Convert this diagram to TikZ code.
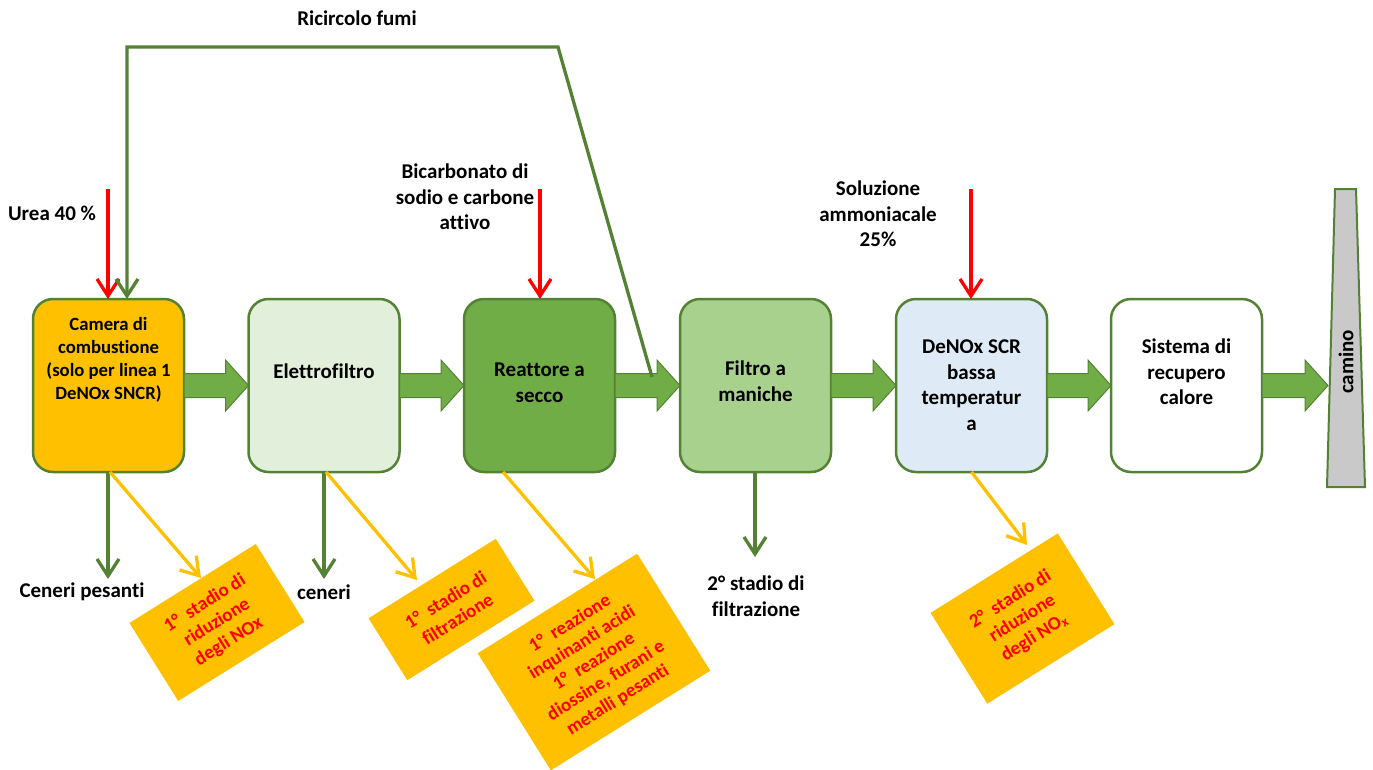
\documentclass[tikz,border=0pt]{standalone}
\usepackage{fontspec}
\setmainfont{Carlito}[Ligatures=NoCommon]
\usetikzlibrary{arrows.meta,calc}
\definecolor{dgreen}{HTML}{548235}
\definecolor{mgreen}{HTML}{70AD47}
\definecolor{lgreen}{HTML}{A9D18E}
\definecolor{vlgreen}{HTML}{E2EFDA}
\definecolor{lblue}{HTML}{DEEBF7}
\definecolor{gold}{HTML}{FFC000}
\definecolor{pure red}{HTML}{FF0000}
\definecolor{chimgray}{HTML}{C9C9C9}
\newcommand{\flowarrow}[2]{%
  \draw[flow] ($(#1)+(0,-12)$) -- ($(#2)+(-23,-12)$) -- ($(#2)+(-23,-25.5)$) -- (#2)
    -- ($(#2)+(-23,25.5)$) -- ($(#2)+(-23,12)$) -- ($(#1)+(0,12)$) -- cycle;}
\begin{document}
\begin{tikzpicture}[x=1pt,y=-1pt,
  box/.style={draw=dgreen, line width=2.5pt, rounded corners=20pt,
    minimum width=151pt, minimum height=173pt, inner sep=0pt, outer sep=0pt},
  lbl/.style={font=\fontsize{21}{25.6}\selectfont\bfseries, align=center, inner sep=0pt},
  smlbl/.style={font=\fontsize{18.7}{23}\selectfont\bfseries, align=center, inner sep=0pt},
  note/.style={fill=gold, rotate=32, inner sep=0pt, outer sep=0pt,
    font=\fontsize{19}{22.5}\selectfont\bfseries, text=pure red, align=center},
  flow/.style={fill=mgreen, draw=dgreen, line width=1pt, line join=miter},
  tip/.style={-{Straight Barb[length=17pt,width=22pt]}},
  greenar/.style={draw=dgreen, line width=3.3pt, tip},
  redar/.style={draw=pure red, line width=3.3pt, tip},
  goldar/.style={draw=gold, line width=3.3pt, tip}
]
\useasboundingbox (0,0) rectangle (1373,769);

% main process boxes
\node[box, fill=gold]    (cam)  at (108.5,385.5) {};
\node[box, fill=vlgreen] (elet) at (324,385.5) {};
\node[box, fill=mgreen]  (reat) at (539.5,385.5) {};
\node[box, fill=lgreen]  (filt) at (755.5,385.5) {};
\node[box, fill=lblue]   (scr)  at (971.5,385.5) {};
\node[box, fill=white]   (sys)  at (1186.5,385.5) {};

\node[smlbl] (cam-t)  at (108.5,360) {Camera di\\combustione\\(solo per linea 1\\DeNOx SNCR)};
\node[lbl]   (elet-t) at (324,371) {Elettrofiltro};
\node[lbl]   (reat-t) at (539.5,383) {Reattore a\\secco};
\node[lbl]   (filt-t) at (755.5,381) {Filtro a\\maniche};
\node[lbl]   (scr-t)  at (971.5,385) {DeNOx SCR\\bassa\\temperatur\\a};
\node[lbl]   (sys-t)  at (1186.5,372) {Sistema di\\recupero\\calore};

% chimney
\draw[fill=chimgray, draw=dgreen, line width=2pt] (1335,189) -- (1356,189) -- (1365,487) -- (1327,487) -- cycle;
\node[lbl, rotate=90] (chim) at (1346,362) {camino};
\coordinate (chim-in) at (1328,385.5);

% block flow arrows
\flowarrow{cam.east}{elet.west}
\flowarrow{elet.east}{reat.west}
\flowarrow{reat.east}{filt.west}
\flowarrow{filt.east}{scr.west}
\flowarrow{scr.east}{sys.west}
\flowarrow{sys.east}{chim-in}

% top labels
\node[lbl] (urea) at (52,213) {Urea 40 \%};
\node[lbl] (ric-t) at (357,18) {Ricircolo fumi};
\node[lbl] (bic) at (465,197) {Bicarbonato di\\sodio e carbone\\attivo};
\node[lbl] (sol) at (878,214) {Soluzione\\ammoniacale\\25\%};

% input arrows
\coordinate (urea-s) at (108,189);
\coordinate (bic-s) at (540,189);
\coordinate (sol-s) at (971,189);
\draw[redar] (urea-s) -- (urea-s |- cam.north);
\draw[redar] (bic-s) -- (bic-s |- reat.north);
\draw[redar] (sol-s) -- (sol-s |- scr.north);

% flue gas recirculation
\coordinate (ric) at (652,377);
\draw[greenar, line join=miter] (ric) -- (558,47) -- (127,47) -- ($(cam.north)+(18.5,0)$);

% outputs
\coordinate (cp-e) at (108,579);
\coordinate (ce-e) at (324,579);
\coordinate (f2-e) at (755,557);
\draw[greenar] (cam.south -| cp-e) -- (cp-e);
\draw[greenar] (elet.south) -- (ce-e);
\draw[greenar] (filt.south -| f2-e) -- (f2-e);
\node[lbl] (cp) at (82,592) {Ceneri pesanti};
\node[lbl] (ce) at (324,592) {ceneri};
\node[lbl] (f2) at (756,596) {2° stadio di\\filtrazione};

% notes
\node[note, minimum width=149pt, minimum height=92pt] (n1) at (217,622.5)
  {1°\ \ stadio di\\riduzione\\degli NOx};
\node[note, minimum width=150pt, minimum height=73pt] (n2) at (451.5,609.5)
  {1°\ \ stadio di\\filtrazione};
\node[note, minimum width=188pt, minimum height=138pt] (n3) at (594,662)
  {1°\ \ reazione\\inquinanti acidi\\1°\ \ reazione\\diossine, furani e\\metalli pesanti};
\node[note, minimum width=150pt, minimum height=107pt] (n4) at (1022.5,618.5)
  {2°\ \ stadio di\\riduzione\\degli NO\textsubscript{x}};

\coordinate (n1-in) at (201,578);
\coordinate (n2-in) at (417,580);
\coordinate (n3-in) at (595,579);
\coordinate (n4-in) at (1027,545);
\draw[goldar] ($(cam.south)+(1.5,0)$) -- (n1-in);
\draw[goldar] ($(elet.south)+(2,0)$) -- (n2-in);
\draw[goldar] ($(reat.south)+(-36.5,0)$) -- (n3-in);
\draw[goldar] (scr.south) -- (n4-in);
\end{tikzpicture}
\end{document}
